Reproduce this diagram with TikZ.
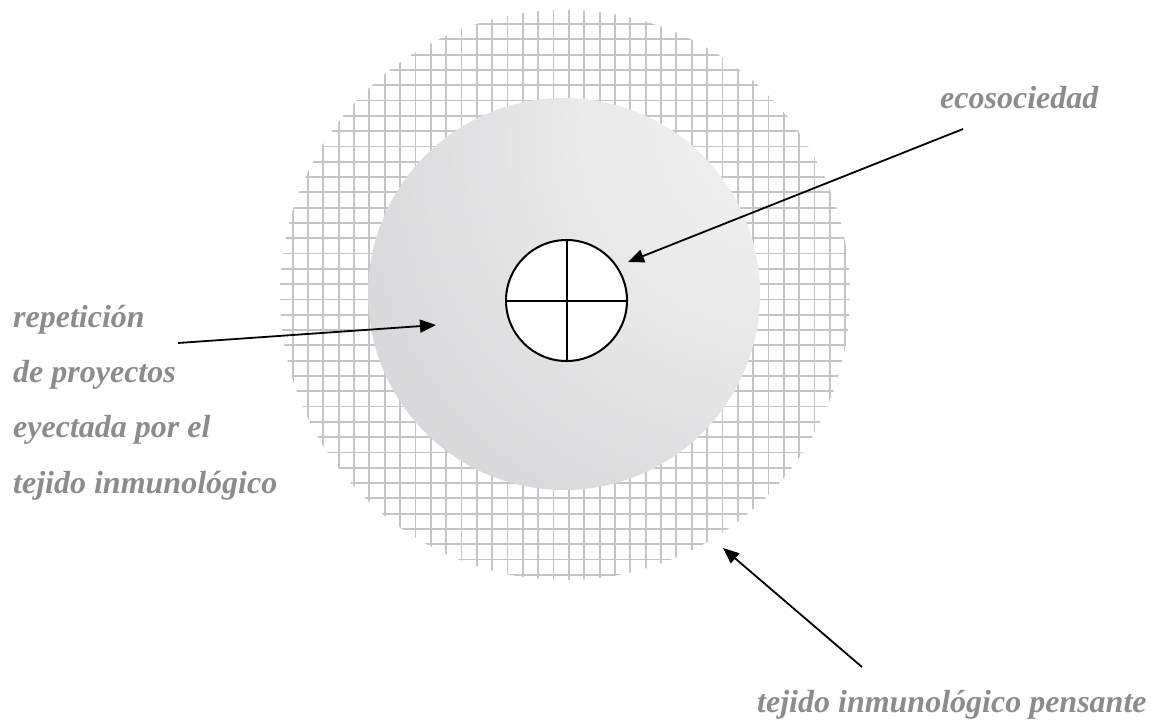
\documentclass[tikz,border=0pt]{standalone}
\usepackage{fontspec}
\setmainfont{Liberation Serif}
\usetikzlibrary{arrows.meta}
\definecolor{textgray}{RGB}{140,140,143}
\definecolor{gridgray}{RGB}{196,197,201}
\pgfdeclareradialshading{innershade}{\pgfpoint{35bp}{27bp}}{%
  rgb(0bp)=(0.955,0.955,0.955);
  rgb(25bp)=(0.915,0.915,0.92);
  rgb(45bp)=(0.855,0.855,0.862);
  rgb(75bp)=(0.815,0.818,0.826);
  rgb(90bp)=(0.8,0.805,0.815);
  rgb(100bp)=(0.8,0.805,0.815)}
\tikzset{
  lbl/.style={inner sep=0pt, text=textgray, font=\fontsize{32}{40}\selectfont\bfseries\itshape},
  gridline/.style={draw=gridgray, line width=1.8pt},
  arr/.style={draw=black, line width=1.8pt, -{Triangle[length=16pt,width=13pt]}},
  ring/.style={draw=black, line width=2pt}
}
\begin{document}
\begin{tikzpicture}[x=1pt,y=-1pt]
\useasboundingbox (0,0) rectangle (1153,721);
% outer grid disc
\begin{scope}
  \clip (565,295) circle (285);
  \foreach \i in {-4,...,37}
    \draw[gridline] (323.3+15.35*\i,0) -- (323.3+15.35*\i,600);
  \foreach \j in {-2,...,40}
    \draw[gridline] (260,24+15.3*\j) -- (870,24+15.3*\j);
\end{scope}
% inner shaded disc
\shade[shading=innershade] (564,294) circle (196);
% central circle
\node[ring, circle, fill=white, minimum size=121pt, inner sep=0pt] (c) at (566.5,300.5) {};
\draw[ring] (c.north) -- (c.south);
\draw[ring] (c.west) -- (c.east);
% labels
\node[lbl, anchor=base west] (eco) at (940,108) {ecosociedad};
\node[lbl, anchor=base west] (l1) at (13,327) {repetición};
\node[lbl, anchor=base west] (l2) at (13,382) {de proyectos};
\node[lbl, anchor=base west] (l3) at (13,437) {eyectada por el};
\node[lbl, anchor=base west] (l4) at (13,493) {tejido inmunológico};
\node[lbl, anchor=base west] (tp) at (757,712) {tejido inmunológico pensante};
% arrow endpoints
\coordinate (a1s) at (963,129);
\coordinate (a1e) at (628,262);
\coordinate (a2s) at (178,343);
\coordinate (a2e) at (436,325);
\coordinate (a3s) at (862,667);
\coordinate (a3e) at (723,548);
\draw[arr] (a1s) -- (a1e);
\draw[arr] (a2s) -- (a2e);
\draw[arr] (a3s) -- (a3e);
\end{tikzpicture}
\end{document}
